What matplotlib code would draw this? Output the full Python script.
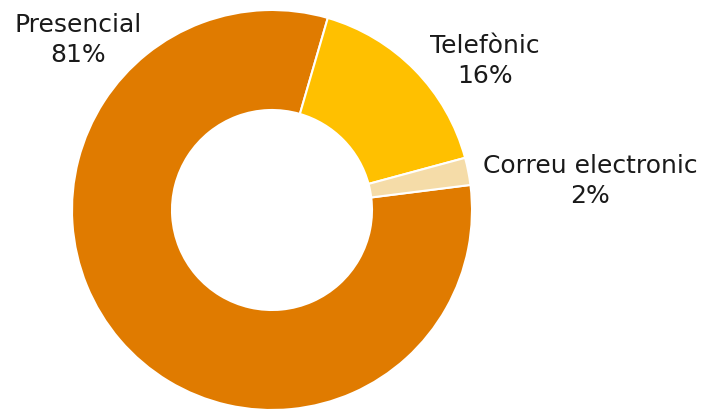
import matplotlib
matplotlib.use("Agg")
import matplotlib.pyplot as plt

categories = ["Presencial", "Telefònic", "Correu electronic"]
values = [81.5, 16.3, 2.2]
pct_labels = ["81%", "16%", "2%"]
colors = ["#E07B00", "#FFC000", "#F5DCA8"]

W, H = 706, 409
fig = plt.figure(figsize=(W / 100, H / 100), dpi=100)
ax = fig.add_axes([0, 0, 1, 1])

cx, cy, R = 272, H - 210, 200
ax.pie(values, colors=colors, startangle=7.2, counterclock=False,
       center=(cx, cy), radius=R, frame=True,
       wedgeprops=dict(width=R * 0.5, edgecolor="white", linewidth=1.5))
ax.set_xlim(0, W)
ax.set_ylim(0, H)
ax.set_aspect("equal")
ax.axis("off")

label_pos = [(78, 40), (485, 61), (590, 181)]
for cat, pct, (x, y) in zip(categories, pct_labels, label_pos):
    ax.text(x, H - y, f"{cat}\n{pct}", ha="center", va="center",
            fontsize=18, family=["DejaVu Sans"], color="#1a1a1a",
            linespacing=1.3)

fig.savefig("out.png", dpi=100)
